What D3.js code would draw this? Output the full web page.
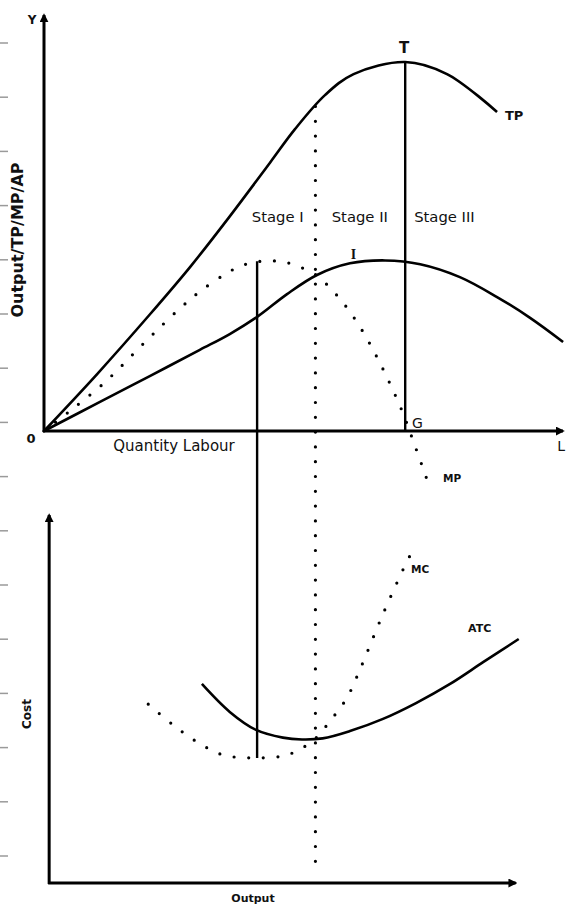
<!DOCTYPE html>
<html lang="en">
<head>
<meta charset="UTF-8">
<title>Stages of production</title>
<script src="https://d3js.org/d3.v7.min.js"></script>
<style>
  body { margin: 0; background: #fff; }
  text { font-family: "DejaVu Sans", Verdana, sans-serif; fill: #111; }
</style>
</head>
<body>
<svg width="566" height="905"></svg>
<script>
// labour (x) vs output (y), both 0-100 schematic units
let tp = [[0,0],[10.3,13.7],[20.5,28],[28.3,39.4],[36,51.6],[43.8,64.5],[48.6,72.5],[54.5,80.8],[60,85.8],[70,88.7],[78.1,85.8],[87.8,76.7]];
let ap = [[0,0],[10.85,7],[20.5,13.2],[30.2,19.5],[36,23.3],[41.5,27.6],[47.1,32.9],[52.9,37.5],[59.3,40.3],[66.1,41],[72.9,40.1],[80.6,37],[87.8,32.2],[94.2,27.2],[100.6,21.4]];
let mp = [[0,0],[4.8,4.6],[11.6,11.5],[20,21.9],[26.2,29.3],[30.6,33.9],[35.5,38],[38.2,39.7],[40.9,40.6],[43.8,40.9],[46.7,40.6],[49.6,39.4],[52.1,38],[54.5,35.6],[58.3,30.3],[61.6,24.3],[64.5,17.8],[67,11.5],[69.4,4.8],[71.5,-2.2],[74.4,-12.3]];
// output (x) vs cost (y)
let atc = [[30.6,54.1],[36,46.5],[41.1,41.6],[46.3,39.5],[50,39],[54,39.3],[59.3,41.3],[65.7,44.6],[72.1,48.9],[78.7,54.1],[85.1,60],[92,66.3]];
let mc = [[20.2,48.6],[24.8,43.2],[29.7,38.3],[34.7,34.8],[40.5,34],[46.3,34.5],[49,35.9],[52.3,38.9],[55.6,44.3],[58.7,50.3],[61.2,57.9],[65.7,73.1],[70.5,87.8],[71.9,91.3]];
let stages = [{name:"Stage I", x:45.3}, {name:"Stage II", x:61.2}, {name:"Stage III", x:77.6}];
let edgeTicks = d3.range(16);

let svg = d3.select("svg");
let x = d3.scaleLinear().domain([0,100]).range([44,560]);
let yTop = d3.scaleLinear().domain([0,100]).range([431,15]);
let yBot = d3.scaleLinear().domain([0,100]).range([883,515]);
let edge = d3.scaleLinear().domain([0,15]).range([43,856]);

svg.append("defs").append("marker")
  .attr("id","arrow").attr("viewBox","0 0 10 10").attr("refX",8).attr("refY",5)
  .attr("markerWidth",9).attr("markerHeight",9).attr("markerUnits","userSpaceOnUse")
  .attr("orient","auto")
  .append("path").attr("d","M0,0L10,5L0,10z").attr("fill","#000");

// grey marks on the left edge
svg.selectAll(".edge").data(edgeTicks).enter().append("line")
  .attr("x1",0).attr("x2",8).attr("y1",d=>edge(d)).attr("y2",d=>edge(d))
  .attr("stroke","#9a9a9a").attr("stroke-width",1.5);

function axis(x1,y1,x2,y2){
  svg.append("line").attr("x1",x1).attr("y1",y1).attr("x2",x2).attr("y2",y2)
    .attr("stroke","#000").attr("stroke-width",3).attr("marker-end","url(#arrow)");
}
// top axes
axis(x(0), yTop(0)+1, x(0), yTop(100));
axis(x(0)-1, yTop(0), x(100)+3, yTop(0));
// bottom axes
let bx0 = x(1);
axis(bx0, yBot(0)+1, bx0, yBot(100));
axis(bx0-1, yBot(0), x(91.4), yBot(0));

let curve = d3.curveCatmullRom.alpha(0.5);
let lineTop = d3.line().x(d=>x(d[0])).y(d=>yTop(d[1])).curve(curve);
let lineBot = d3.line().x(d=>x(d[0])).y(d=>yBot(d[1])).curve(curve);

function solid(d, gen){
  svg.append("path").attr("d",gen(d)).attr("fill","none").attr("stroke","#000").attr("stroke-width",2.6);
}
function dotted(d, gen){
  svg.append("path").attr("d",gen(d)).attr("fill","none").attr("stroke","#000")
    .attr("stroke-width",3.2).attr("stroke-linecap","round").attr("stroke-dasharray","0,14.6");
}
solid(tp, lineTop);
solid(ap, lineTop);
dotted(mp, lineTop);
solid(atc, lineBot);
dotted(mc, lineBot);

// guide lines between stages
svg.append("line").attr("x1",x(41.3)).attr("x2",x(41.3)).attr("y1",yTop(40.8)).attr("y2",yBot(34))
  .attr("stroke","#000").attr("stroke-width",2.4);
svg.append("line").attr("x1",x(70)).attr("x2",x(70)).attr("y1",yTop(88.7)).attr("y2",yTop(0))
  .attr("stroke","#000").attr("stroke-width",2.4);
svg.append("line").attr("x1",x(52.6)).attr("x2",x(52.6)).attr("y1",yTop(78)).attr("y2",yBot(3))
  .attr("stroke","#000").attr("stroke-width",3.2).attr("stroke-linecap","round").attr("stroke-dasharray","0,14.8");

// labels
function label(t, px, py, size, weight, anchor){
  return svg.append("text").text(t).attr("x",px).attr("y",py)
    .attr("font-size",size).attr("font-weight",weight||"normal").attr("text-anchor",anchor||"middle");
}
svg.selectAll(".stage").data(stages).enter().append("text")
  .text(d=>d.name).attr("x",d=>x(d.x)).attr("y",222)
  .attr("font-size",14.8).attr("text-anchor","middle");

label("Y", 32, 24, 12, "bold");
label("0", 31, 443, 13, "bold");
label("Quantity Labour", 174, 451, 15);
label("L", 565, 451, 14, "normal", "end");
label("T", 404, 53, 15, "bold");
label("TP", 505, 120, 13, "bold", "start");
label("I", 353.5, 259, 14, "bold").style("font-family","'Liberation Serif', serif");
label("G", 412, 428, 14, "normal", "start");
label("MP", 443, 482, 10.5, "bold", "start");
label("MC", 411, 573, 10.5, "bold", "start");
label("ATC", 468, 632, 11, "bold", "start");
label("Output", 253, 902, 11, "bold");

svg.append("text").text("Output/TP/MP/AP")
  .attr("transform","translate(23,240) rotate(-90)")
  .attr("font-size",16).attr("font-weight","bold").attr("text-anchor","middle");
svg.append("text").text("Cost")
  .attr("transform","translate(31,714) rotate(-90)")
  .attr("font-size",12).attr("font-weight","bold").attr("text-anchor","middle");
</script>
</body>
</html>
